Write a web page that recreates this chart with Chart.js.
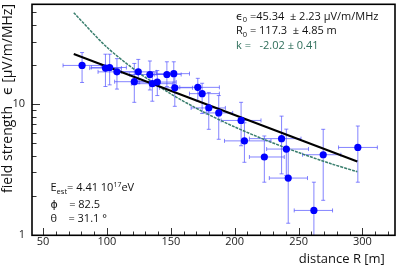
<!DOCTYPE html>
<html><head><meta charset="utf-8">
<script src="https://cdn.jsdelivr.net/npm/chart.js@4.4.1/dist/chart.umd.min.js"></script>
<style>html,body{margin:0;padding:0;background:#fff}#c{display:block}</style>
</head><body>
<canvas id="c" width="399" height="267"></canvas>
<script>
// measured data points (distance R [m], field strength [uV/m/MHz]) with error bars
const distance     = [80.5, 98.8, 102.1, 107.8, 121.4, 124.5, 133.6, 135.5, 139.4, 146.9, 152.3, 153.1, 171.1, 174.5, 179.7, 187.5, 205.0, 207.6, 223.2, 236.7, 240.4, 241.9, 262.0, 269.3, 296.4];
const strength     = [19.7, 18.8, 19.0, 17.6, 14.8, 17.6, 16.8, 14.3, 14.7, 16.8, 17.05, 13.3, 13.4, 12.0, 9.33, 8.55, 7.49, 5.23, 3.94, 5.44, 4.53, 2.72, 1.54, 4.10, 4.66];
const strengthLow  = [14.6, 13.6, 14.0, 13.0, 10.3, 14.3, 12.8, 10.5, 11.6, 13.6, 14.0, 9.6, 10.5, 8.46, 6.41, 5.38, 4.8, 3.59, 2.53, 2.93, 2.85, 1.23, 0.9, 1.84, 2.53];
const strengthHigh = [24.7, 24.0, 24.0, 22.2, 20.4, 21.9, 21.3, 17.6, 18.0, 21.0, 21.0, 16.4, 15.7, 14.4, 12.25, 11.6, 10.3, 7.19, 5.70, 8.08, 6.43, 4.40, 2.53, 6.41, 6.79];
const distanceLow  = [65.6, 86.5, 87.8, 93.0, 106.0, 111.3, 117.7, 119.1, 125.5, 137.3, 138.6, 141.2, 157.0, 164.6, 165.9, 177.7, 189.4, 192.0, 211.5, 211.5, 225.0, 227.1, 246.6, 253.1, 281.3];
const distanceHigh = [95.6, 111.3, 115.2, 123.0, 137.3, 138.6, 149.0, 151.6, 154.2, 158.1, 164.6, 167.0, 188.0, 188.0, 192.7, 198.4, 220.6, 228.4, 238.8, 251.9, 257.8, 257.0, 276.6, 283.1, 311.7];
// fit curves
const expFitR = [74, 296];
const expFitE = [24.1, 3.64];
const powFitR = [74, 100, 125, 150, 175, 200, 225, 250, 275, 296];
const powFitE = [49.8, 27.1, 17.3, 11.95, 8.75, 6.68, 5.27, 4.26, 3.51, 3.04];
// ticks
const xTickValues = [50,60,70,80,90,100,110,120,130,140,150,160,170,180,190,200,210,220,230,240,250,260,270,280,290,300,310,320];
const xTickLabels = [50,100,150,200,250,300];
const yTickValues = [1,2,3,4,5,6,7,8,9,10,20,30,40,50];
const yTickLabels = [1,10];

const FONT = '"Open Sans", "DejaVu Sans", sans-serif';

function runs(ctx, x, y, parts, color){
  ctx.fillStyle = color || '#111';
  ctx.textBaseline = 'alphabetic';
  ctx.textAlign = 'left';
  let cx = x;
  for (const p of parts){
    ctx.font = (p.s || 11) + 'px ' + FONT;
    ctx.fillText(p.t, cx, y + (p.dy || 0));
    cx += ctx.measureText(p.t).width + (p.gap || 0);
  }
}

const decor = {
  id: 'decor',
  beforeDatasetsDraw(chart){
    const {ctx, chartArea: a, scales: {x, y}} = chart;
    ctx.save();
    ctx.beginPath(); ctx.rect(a.left, a.top, a.right - a.left, a.bottom - a.top); ctx.clip();
    ctx.strokeStyle = 'rgba(80,80,255,0.7)';
    ctx.lineWidth = 1;
    const c = 2;
    for (let i = 0; i < distance.length; i++){
      const px = x.getPixelForValue(distance[i]);
      const py = y.getPixelForValue(strength[i]);
      const x0 = x.getPixelForValue(distanceLow[i]);
      const x1 = x.getPixelForValue(distanceHigh[i]);
      const y0 = y.getPixelForValue(strengthLow[i]);
      const y1 = y.getPixelForValue(strengthHigh[i]);
      ctx.beginPath();
      ctx.moveTo(x0, py); ctx.lineTo(x1, py);
      ctx.moveTo(px, y0); ctx.lineTo(px, y1);
      ctx.moveTo(x0, py - c); ctx.lineTo(x0, py + c);
      ctx.moveTo(x1, py - c); ctx.lineTo(x1, py + c);
      ctx.moveTo(px - c, y0); ctx.lineTo(px + c, y0);
      ctx.moveTo(px - c, y1); ctx.lineTo(px + c, y1);
      ctx.stroke();
    }
    ctx.restore();
  },
  afterDraw(chart){
    const {ctx, chartArea: a, scales: {x, y}} = chart;
    ctx.save();
    // inward ticks
    ctx.strokeStyle = '#333'; ctx.lineWidth = 1;
    ctx.beginPath();
    for (const v of xTickValues){
      const px = Math.round(x.getPixelForValue(v)) + 0.5;
      const len = xTickLabels.includes(v) ? 7 : 3.5;
      ctx.moveTo(px, a.bottom); ctx.lineTo(px, a.bottom - len);
    }
    for (const v of yTickValues){
      const py = Math.round(y.getPixelForValue(v)) + 0.5;
      const len = yTickLabels.includes(v) ? 8 : 4.5;
      ctx.moveTo(a.left, py); ctx.lineTo(a.left + len, py);
    }
    ctx.stroke();
    // frame
    ctx.strokeStyle = '#000'; ctx.lineWidth = 1.6;
    ctx.strokeRect(a.left, a.top + 0.3, a.right - a.left, a.bottom - a.top);
    // fit annotations
    runs(ctx, 236, 19.5, [{t:'ϵ'}, {t:'0', s:7.5, dy:2.5}, {t:' =45.34  ± 2.23 μV/m/MHz'}]);
    runs(ctx, 236, 34, [{t:'R'}, {t:'0', s:7.5, dy:2.5}, {t:' = 117.3  ± 4.85 m'}]);
    runs(ctx, 236, 48.5, [{t:'k =   -2.02 ± 0.41'}], '#2e6e5a');
    // event annotations
    runs(ctx, 50.5, 191, [{t:'E'}, {t:'est', s:7.5, dy:3}, {t:'= 4.41 10'}, {t:'17', s:7, dy:-4.5}, {t:'eV'}]);
    runs(ctx, 50.5, 207.5, [{t:'ϕ'}, {t:'    = 82.5'}]);
    runs(ctx, 50.5, 222, [{t:'θ'}, {t:'    = 31.1 °'}]);
    ctx.restore();
  }
};

const pts = distance.map((r, i) => ({x: r, y: strength[i]}));
const expLine = expFitR.map((r, i) => ({x: r, y: expFitE[i]}));
const powLine = powFitR.map((r, i) => ({x: r, y: powFitE[i]}));

function noPad(s){ s.paddingTop = 0; s.paddingBottom = 0; s.paddingLeft = 0; s.paddingRight = 0; }

new Chart(document.getElementById('c'), {
  type: 'scatter',
  data: {
    datasets: [
      {label: 'data', data: pts, backgroundColor: '#0000ff', borderWidth: 0, pointRadius: 3.6, order: 0},
      {label: 'exp fit', data: expLine, showLine: true, borderColor: '#000', borderWidth: 2, pointRadius: 0, fill: false, order: 1},
      {label: 'power fit', data: powLine, showLine: true, borderColor: '#3a7f6e', borderWidth: 1.5, borderDash: [3, 1], pointRadius: 0, fill: false, tension: 0.3, order: 2}
    ]
  },
  options: {
    responsive: false,
    animation: false,
    devicePixelRatio: 1,
    layout: {padding: {top: 1, right: 3, left: 0, bottom: 0}},
    plugins: {legend: {display: false}, tooltip: {enabled: false}},
    scales: {
      x: {
        type: 'linear', min: 41.3, max: 325.5,
        afterBuildTicks: s => { s.ticks = xTickValues.map(v => ({value: v})); },
        afterFit: s => { s.height = 32; noPad(s); },
        grid: {display: false, drawTicks: false}, border: {display: false},
        ticks: {autoSkip: false, maxRotation: 0, padding: 0, color: '#222', font: {size: 11, family: FONT},
          callback: v => xTickLabels.includes(v) ? String(v) : ''},
        title: {display: true, text: 'distance R [m]   ', align: 'end', color: '#111', font: {size: 13, family: FONT}, padding: {top: 0, bottom: 0}}
      },
      y: {
        type: 'logarithmic', min: 1, max: 58,
        afterBuildTicks: s => { s.ticks = yTickValues.map(v => ({value: v})); },
        afterFit: s => { s.width = 32; noPad(s); },
        grid: {display: false, drawTicks: false}, border: {display: false},
        ticks: {autoSkip: false, padding: 7, color: '#222', font: {size: 11, family: FONT},
          callback: v => yTickLabels.includes(v) ? String(v) : ''},
        title: {display: true, text: 'field strength   ϵ [μV/m/MHz]', align: 'end', color: '#111', font: {size: 14, family: FONT}, padding: {top: 0, bottom: 0}}
      }
    }
  },
  plugins: [decor]
});
</script>
</body></html>
